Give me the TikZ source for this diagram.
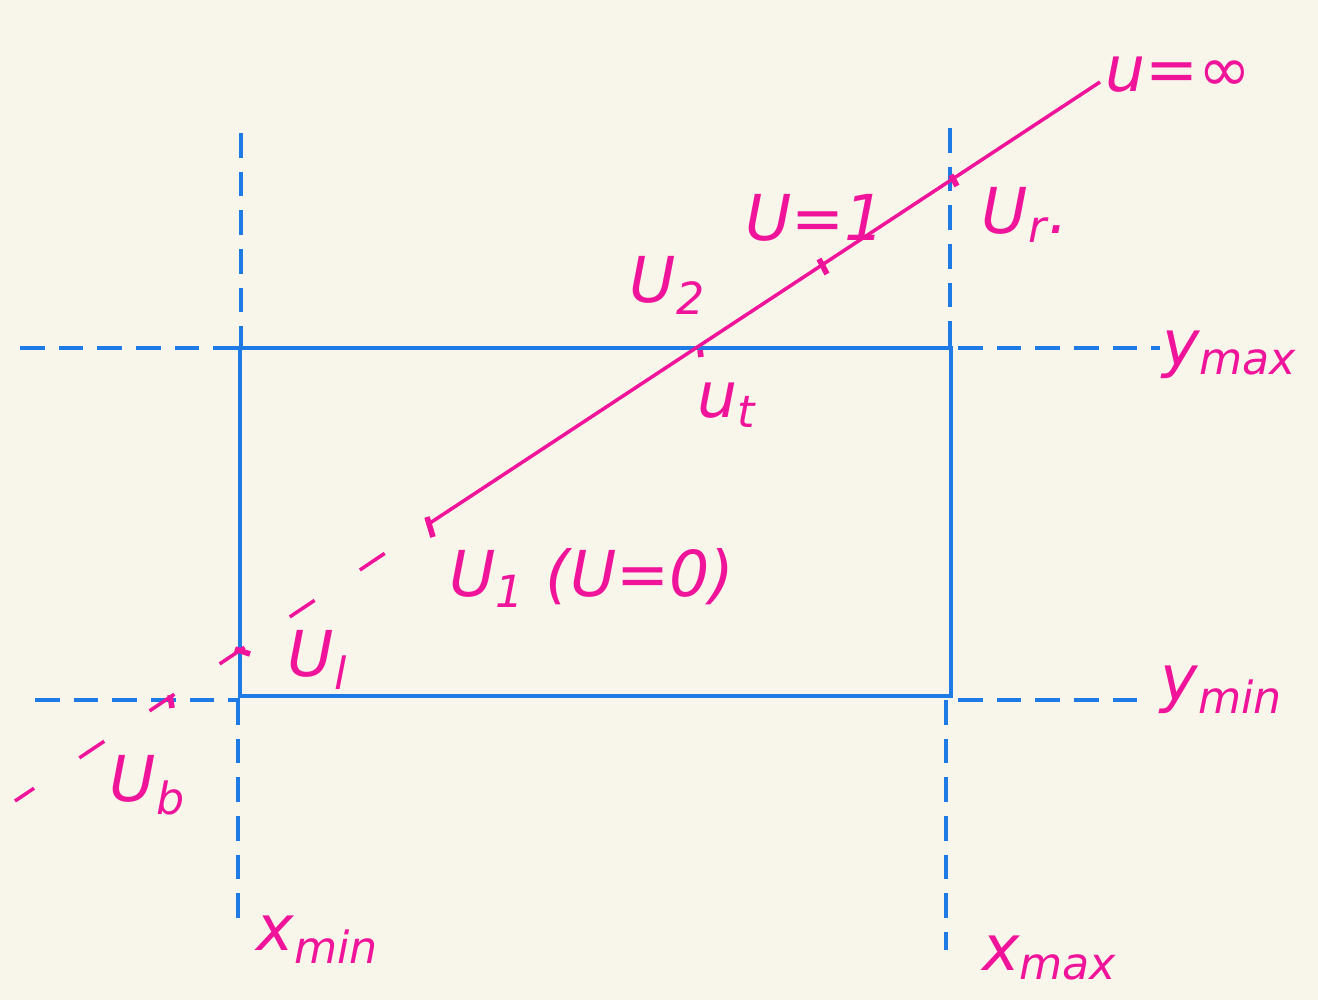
\documentclass[tikz,border=0pt]{standalone}
\usepackage{fontspec}
\setmainfont{DejaVu Sans}
\usetikzlibrary{calc}
\definecolor{bg}{HTML}{F8F6EA}
\definecolor{bl}{HTML}{1E7BE6}
\definecolor{mg}{HTML}{F0149A}
\tikzset{
  guide/.style={bl, line width=1.1pt, dash pattern=on 7pt off 4pt},
  clipline/.style={mg, line width=1pt},
  ext/.style={mg, line width=1pt, dash pattern=on 8.5pt off 15.5pt, dash phase=8.5pt},
  tick/.style={mg, line width=1.6pt},
  lbl/.style={mg, font=\fontsize{18}{20}\selectfont\itshape, inner sep=1pt},
}
\begin{document}
\begin{tikzpicture}[x=0.01cm,y=-0.01cm]
\fill[bg] (0,0) rectangle (1318,1000);
\useasboundingbox (0,0) rectangle (1318,1000);
% window
\coordinate (tl) at (240,348);
\coordinate (br) at (951,696);
\draw[bl, line width=1.3pt] (tl) rectangle (br);
% guides
\coordinate (h1a) at (20,348);   \coordinate (h1b) at (240,348);
\coordinate (h1c) at (958,348);  \coordinate (h1d) at (1160,348);
\coordinate (h2a) at (35,700);   \coordinate (h2b) at (240,700);
\coordinate (h2c) at (958,700);  \coordinate (h2d) at (1140,700);
\coordinate (v1a) at (241,133);  \coordinate (v1b) at (241,348);
\coordinate (v1c) at (238,700);  \coordinate (v1d) at (238,925);
\coordinate (v2a) at (950,128);  \coordinate (v2b) at (950,348);
\coordinate (v2c) at (946,700);  \coordinate (v2d) at (946,950);
\draw[guide] (h1a) -- (h1b);
\draw[guide] (h1c) -- (h1d);
\draw[guide] (h2a) -- (h2b);
\draw[guide] (h2c) -- (h2d);
\draw[guide] (v1a) -- (v1b);
\draw[guide] (v1c) -- (v1d);
\draw[guide] (v2a) -- (v2b);
\draw[guide] (v2c) -- (v2d);
% line
\coordinate (p1) at (430,523);
\coordinate (pinf) at (1100,82);
\coordinate (pend) at (15,801);
\draw[clipline] (p1) -- (pinf);
\draw[ext] (p1) -- (pend);
% ticks
\coordinate (ul) at (240,652);
\coordinate (ub) at (170,700);
\coordinate (ut) at (700,350);
\coordinate (u1) at (825,267);
\coordinate (ur) at (955,180);
\draw[tick] ($(p1)+(-3,-6)$) -- ($(p1)+(3,14)$);
\draw[tick] ($(ul)+(-5,-3)$) -- ($(ul)+(10,2)$);
\draw[tick] ($(ub)+(0,-5)$) -- ($(ub)+(2,8)$);
\draw[tick] ($(ut)+(0,0)$) -- ($(ut)+(1,7)$);
\draw[tick] ($(u1)+(-6,-8)$) -- ($(u1)+(2,7)$);
\draw[tick] ($(ur)+(-4,-5)$) -- ($(ur)+(2,6)$);
% labels
\node[lbl] (Linf) at (1178,75) {u=∞};
\node[lbl] (Lur) at (1025,215) {U\textsubscript{r}.};
\node[lbl] (Lu1) at (815,218) {U=1};
\node[lbl] (Lu2) at (668,285) {U\textsubscript{2}};
\node[lbl] (Lut) at (727,405) {u\textsubscript{t}};
\node[lbl, anchor=west] (Lp1) at (445,578) {U\textsubscript{1} (U=0)};
\node[lbl] (Lul) at (318,660) {U\textsubscript{l}};
\node[lbl] (Lub) at (148,785) {U\textsubscript{b}};
\node[lbl] (Lymax) at (1230,355) {y\textsubscript{max}};
\node[lbl] (Lymin) at (1222,690) {y\textsubscript{min}};
\node[lbl] (Lxmin) at (318,940) {x\textsubscript{min}};
\node[lbl] (Lxmax) at (1050,958) {x\textsubscript{max}};
\end{tikzpicture}
\end{document}
